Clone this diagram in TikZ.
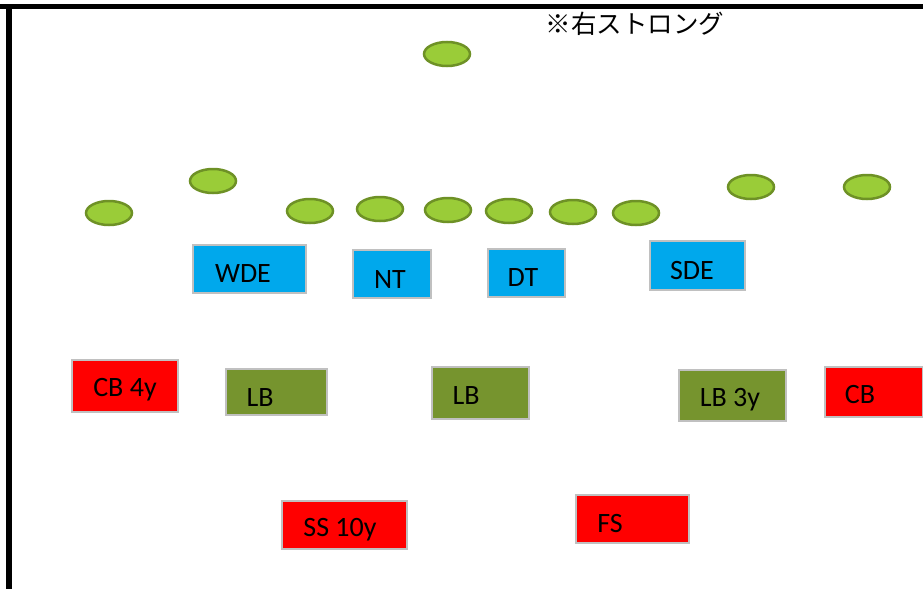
\documentclass[tikz,border=0pt]{standalone}
\usepackage{fontspec}
\setmainfont{Carlito}
\newfontfamily\jpfont{Noto Sans CJK JP}
\usepackage{tikz}
\usetikzlibrary{shapes,positioning}
\definecolor{offgreen}{RGB}{154,204,56}
\definecolor{offedge}{RGB}{110,145,38}
\definecolor{dlblue}{RGB}{0,168,236}
\definecolor{lbolive}{RGB}{118,148,46}
\definecolor{boxgray}{RGB}{192,192,192}

\begin{document}
\begin{tikzpicture}[x=1pt, y=-1pt]
  \tikzstyle{player} = [ellipse, draw=offedge, line width=2.5pt, fill=offgreen, minimum width=46pt, minimum height=24pt, inner sep=0pt]
  \tikzstyle{posbox} = [rectangle, draw=boxgray, line width=2pt, inner sep=0pt]
  \tikzstyle{dline} = [posbox, fill=dlblue]
  \tikzstyle{backer} = [posbox, fill=lbolive]
  \tikzstyle{dback} = [posbox, fill=red]
  \tikzstyle{tag} = [inner sep=0pt, font=\fontsize{28}{32}\selectfont]

  \useasboundingbox (0,0) rectangle (923,589);

  % field border
  \draw[line width=5.5pt] (0,6.5) -- (923,6.5);
  \draw[line width=6pt] (9,9) -- (9,589);

  \node[font=\jpfont\fontsize{25.5}{30}\selectfont, inner sep=0pt] (note) at (635,24) {※右ストロング};

  % offense
  \node[player] (qb) at (447,54) {};
  \node[player] (wr1) at (109,213) {};
  \node[player] (wr2) at (213,181) {};
  \node[player] (ol1) at (310,211) {};
  \node[player] (ol2) at (380,209) {};
  \node[player] (ol3) at (448,210) {};
  \node[player] (ol4) at (509,211) {};
  \node[player] (ol5) at (573,212) {};
  \node[player] (te) at (636,213) {};
  \node[player] (wr3) at (751,187) {};
  \node[player] (wr4) at (867,187) {};

  % defensive line
  \node[dline, minimum width=113pt, minimum height=48pt] (wde) at (249.5,269) {};
  \node[tag] (wde_t) at (243,274) {WDE};
  \node[dline, minimum width=78pt, minimum height=48pt] (nt) at (392,274) {};
  \node[tag] (nt_t) at (390,280) {NT};
  \node[dline, minimum width=77pt, minimum height=48pt] (dt) at (526.5,273) {};
  \node[tag] (dt_t) at (523,278) {DT};
  \node[dline, minimum width=95pt, minimum height=49pt] (sde) at (697.5,265.5) {};
  \node[tag] (sde_t) at (692,271) {SDE};

  % linebackers and corners
  \node[dback, minimum width=106pt, minimum height=52pt] (cbl) at (125,386) {};
  \node[tag] (cbl_t) at (125,390) {CB 4y};
  \node[backer, minimum width=101pt, minimum height=46pt] (lb1) at (276.5,392) {};
  \node[tag] (lb1_t) at (260,398) {LB};
  \node[backer, minimum width=97pt, minimum height=52pt] (lb2) at (480.5,393) {};
  \node[tag] (lb2_t) at (466,396) {LB};
  \node[backer, minimum width=107pt, minimum height=51pt] (lb3) at (732.5,395.5) {};
  \node[tag] (lb3_t) at (730,400) {LB 3y};
  \node[dback, minimum width=98pt, minimum height=50pt] (cbr) at (874,392) {};
  \node[tag] (cbr_t) at (860,395) {CB};

  % safeties
  \node[dback, minimum width=125pt, minimum height=48pt] (ss) at (344.5,525) {};
  \node[tag] (ss_t) at (340,530) {SS 10y};
  \node[dback, minimum width=113pt, minimum height=48pt] (fs) at (632.5,519) {};
  \node[tag] (fs_t) at (610,524) {FS};
\end{tikzpicture}
\end{document}
